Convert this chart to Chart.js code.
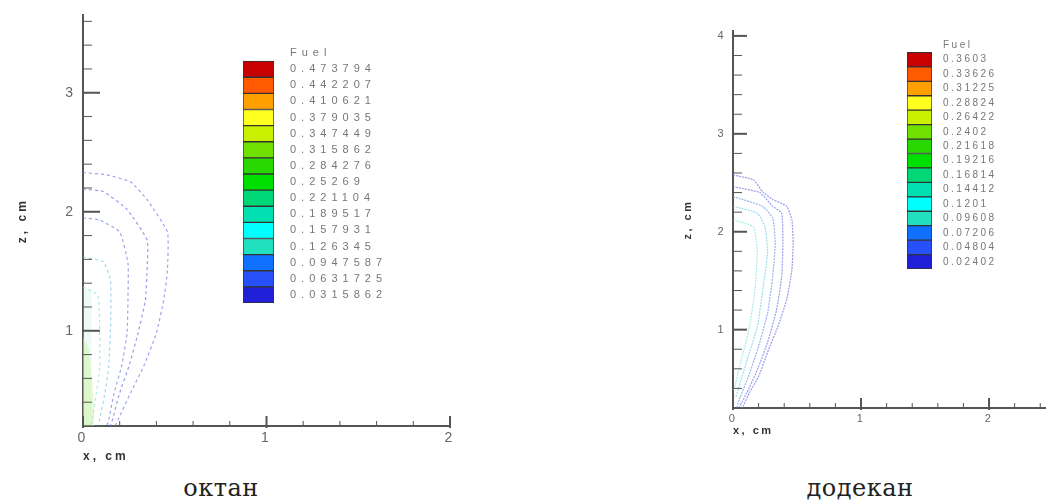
<!DOCTYPE html>
<html>
<head>
<meta charset="utf-8">
<script src="https://cdn.jsdelivr.net/npm/chart.js@4.4.1/dist/chart.umd.min.js"></script>
<style>
    body { margin: 0; background: #fff; width: 1046px; height: 500px; overflow: hidden; position: relative; }
    canvas { position: absolute; }
    .caption { position: absolute; width: 200px; text-align: center; font-family: 'DejaVu Serif', serif; font-size: 24px; line-height: 24px; color: #222; letter-spacing: 0.5px; }
</style>
</head>
<body>
<canvas id="octaneChart" width="470" height="470" style="left:0;top:0"></canvas>
<canvas id="octaneLegend" width="150" height="308" style="left:243px;top:20px"></canvas>
<canvas id="dodecaneChart" width="376" height="440" style="left:670px;top:0"></canvas>
<canvas id="dodecaneLegend" width="139" height="271" style="left:907px;top:18px"></canvas>
<div class="caption" style="left:121px;top:476px">октан</div>
<div class="caption" style="left:760px;top:476px">додекан</div>
<script>
// fuel levels shown in the two colour bars
let octaneLevels = ['0.473794', '0.442207', '0.410621', '0.379035', '0.347449', '0.315862', '0.284276', '0.25269',
    '0.221104', '0.189517', '0.157931', '0.126345', '0.0947587', '0.0631725', '0.0315862'];
let dodecaneLevels = ['0.3603', '0.33626', '0.31225', '0.28824', '0.26422', '0.2402', '0.21618', '0.19216',
    '0.16814', '0.14412', '0.1201', '0.09608', '0.07206', '0.04804', '0.02402'];
let fuelColors = ['#c80000', '#ff5a00', '#ffa000', '#ffff20', '#c8f000', '#70e000', '#28d800', '#00e000',
    '#00d878', '#00e0b0', '#00ffff', '#20e0c0', '#1070ff', '#2850f8', '#2020d8'];

// tick values
let octaneXTicks = [0, 0.2, 0.4, 0.6, 0.8, 1, 1.2, 1.4, 1.6, 1.8, 2];
let octaneYTicks = [0.2, 0.4, 0.6, 0.8, 1, 1.2, 1.4, 1.6, 1.8, 2, 2.2, 2.4, 2.6, 2.8, 3, 3.2, 3.4, 3.6];
let dodecaneXTicks = [0, 0.2, 0.4, 0.6, 0.8, 1, 1.2, 1.4, 1.6, 1.8, 2, 2.2, 2.4];
let dodecaneYTicks = [0.2, 0.4, 0.6, 0.8, 1, 1.2, 1.4, 1.6, 1.8, 2, 2.2, 2.4, 2.6, 2.8, 3, 3.2, 3.4, 3.6, 3.8, 4];

// contour lines, [x cm, z cm], outermost first
let octaneC1 = [[0, 2.33], [0.13, 2.31], [0.26, 2.25], [0.35, 2.10], [0.46, 1.83], [0.46, 1.51], [0.44, 1.26],
    [0.40, 0.98], [0.33, 0.70], [0.26, 0.48], [0.19, 0.25], [0.175, 0.2]];
let octaneC2 = [[0, 2.19], [0.11, 2.17], [0.24, 2.02], [0.35, 1.76], [0.35, 1.54], [0.34, 1.26], [0.30, 0.98],
    [0.25, 0.70], [0.20, 0.48], [0.16, 0.25], [0.15, 0.2]];
let octaneC3 = [[0, 1.95], [0.09, 1.93], [0.20, 1.83], [0.245, 1.57], [0.245, 1.26], [0.24, 0.98], [0.21, 0.70],
    [0.17, 0.48], [0.14, 0.25], [0.13, 0.2]];
let octaneC4 = [[0, 1.62], [0.11, 1.58], [0.15, 1.43], [0.15, 1.03], [0.14, 0.70], [0.12, 0.48], [0.09, 0.25], [0.085, 0.2]];
let octaneC5 = [[0, 1.37], [0.08, 1.30], [0.09, 1.09], [0.09, 0.67], [0.05, 0.25], [0.045, 0.2]];
let octaneCore = [[0, 0.95], [0.03, 0.85], [0.05, 0.6], [0.06, 0.35], [0.06, 0.2]];

let dodecaneC1 = [[0, 2.58], [0.16, 2.53], [0.23, 2.41], [0.31, 2.33], [0.42, 2.26], [0.46, 2.12], [0.47, 1.89],
    [0.46, 1.61], [0.42, 1.31], [0.35, 1.03], [0.27, 0.77], [0.20, 0.52], [0.13, 0.36], [0.08, 0.22], [0.07, 0.2]];
let dodecaneC2 = [[0, 2.46], [0.21, 2.40], [0.31, 2.26], [0.38, 2.19], [0.39, 1.89], [0.38, 1.54], [0.34, 1.20],
    [0.27, 0.87], [0.19, 0.59], [0.11, 0.36], [0.05, 0.21], [0.045, 0.2]];
let dodecaneC3 = [[0, 2.36], [0.23, 2.26], [0.31, 2.14], [0.33, 1.89], [0.31, 1.54], [0.27, 1.17], [0.20, 0.83],
    [0.12, 0.52], [0.05, 0.29], [0.03, 0.2]];
let dodecaneC4 = [[0, 2.26], [0.19, 2.19], [0.25, 2.05], [0.27, 1.79], [0.23, 1.38], [0.19, 1.03], [0.11, 0.69],
    [0.04, 0.39], [0.02, 0.3]];
let dodecaneC5 = [[0, 2.12], [0.16, 2.05], [0.19, 1.79], [0.17, 1.38], [0.12, 0.97], [0.05, 0.62], [0.015, 0.42], [0, 0.38]];

Chart.defaults.font.family = "'Liberation Sans', Arial, sans-serif";

// ticks are drawn inward from the axes, like in Tecplot
let innerTicks = {
    id: 'innerTicks',
    afterDraw(chart, args, opts) {
        let ctx = chart.ctx;
        let area = chart.chartArea;
        ctx.save();
        ctx.strokeStyle = '#555';
        for (let v of chart.scales.x.ticks.map(t => t.value)) {
            let px = chart.scales.x.getPixelForValue(v);
            let major = Number.isInteger(v);
            ctx.lineWidth = major ? 2 : 1;
            ctx.beginPath();
            ctx.moveTo(px, area.bottom + (major ? 2 : 0));
            ctx.lineTo(px, area.bottom - (major ? opts.xMajor : opts.xMinor));
            ctx.stroke();
        }
        for (let v of chart.scales.y.ticks.map(t => t.value)) {
            let py = chart.scales.y.getPixelForValue(v);
            let major = Number.isInteger(v);
            ctx.lineWidth = major ? 2 : 1;
            ctx.beginPath();
            ctx.moveTo(area.left, py);
            ctx.lineTo(area.left + (major ? opts.yMajor : opts.yMinor), py);
            ctx.stroke();
        }
        ctx.restore();
    }
};

// the source picture is stretched sideways, so its text is widely spaced
let letterSpacing = {
    id: 'letterSpacing',
    beforeDraw(chart, args, opts) {
        chart.ctx.letterSpacing = (opts.px || 0) + 'px';
    }
};

function contourDataset(points, color, dash, fillColor) {
    return {
        data: points.map(p => ({ x: p[0], y: p[1] })),
        showLine: true,
        borderColor: color,
        borderWidth: 1.2,
        borderDash: dash,
        pointRadius: 0,
        tension: 0.15,
        fill: fillColor ? 'start' : false,
        backgroundColor: fillColor || 'transparent'
    };
}

function renderContourChart(canvasId, datasets, g) {
    return new Chart(document.getElementById(canvasId), {
        type: 'scatter',
        data: { datasets: datasets },
        plugins: [innerTicks, letterSpacing],
        options: {
            responsive: false,
            animation: false,
            events: [],
            layout: { autoPadding: false, padding: { top: g.top, right: g.right, left: 0, bottom: 0 } },
            plugins: {
                legend: { display: false },
                tooltip: { enabled: false },
                innerTicks: { xMajor: 10, xMinor: 5, yMajor: g.yMajor, yMinor: 9 },
                letterSpacing: { px: g.spacing }
            },
            scales: {
                x: {
                    type: 'linear',
                    min: 0,
                    max: g.xMax,
                    afterBuildTicks: s => { s.ticks = g.xTicks.map(v => ({ value: v })); },
                    afterFit: s => { s.height = g.xAxisHeight; },
                    grid: { display: false, drawTicks: false },
                    border: { display: true, color: '#555', width: 2 },
                    ticks: {
                        autoSkip: false, maxRotation: 0, padding: g.xTickPad, color: '#666',
                        font: { size: g.tickSize },
                        callback: v => Number.isInteger(v) ? v : ''
                    },
                    title: {
                        display: true, text: 'x, cm', align: 'start', color: '#333',
                        font: { size: g.titleSize, weight: 'bold' }, padding: { top: 0, bottom: g.xTitlePad }
                    }
                },
                y: {
                    type: 'linear',
                    min: 0.2,
                    max: g.yMax,
                    afterBuildTicks: s => { s.ticks = g.yTicks.map(v => ({ value: v })); },
                    afterFit: s => { s.width = g.yAxisWidth; },
                    grid: { display: false, drawTicks: false },
                    border: { display: true, color: '#555', width: 2 },
                    ticks: {
                        autoSkip: false, padding: 7, color: '#666',
                        font: { size: g.tickSize },
                        callback: v => Number.isInteger(v) ? v : ''
                    },
                    title: {
                        display: true, text: 'z, cm', color: '#333',
                        font: { size: g.titleSize, weight: 'bold' }, padding: { top: g.yTitlePad, bottom: 0 }
                    }
                }
            }
        }
    });
}

function renderFuelLegend(canvasId, levels, g) {
    return new Chart(document.getElementById(canvasId), {
        type: 'bar',
        data: {
            labels: ['Fuel'].concat(levels),
            datasets: [{
                data: [null].concat(levels.map(() => 1)),
                backgroundColor: ['transparent'].concat(fuelColors),
                borderColor: '#333',
                borderWidth: 1,
                borderSkipped: false,
                barPercentage: 1,
                categoryPercentage: 1
            }]
        },
        plugins: [letterSpacing],
        options: {
            indexAxis: 'y',
            responsive: false,
            animation: false,
            events: [],
            layout: { autoPadding: false, padding: { top: g.margin, bottom: g.margin, left: 0, right: 0 } },
            plugins: {
                legend: { display: false },
                tooltip: { enabled: false },
                letterSpacing: { px: g.spacing }
            },
            scales: {
                x: { display: false, min: 0, max: 1 },
                y: {
                    position: 'right',
                    afterFit: s => { s.width = g.axisWidth; },
                    grid: { display: false, drawTicks: false },
                    border: { display: false },
                    ticks: { autoSkip: false, padding: g.pad, color: '#777', font: { size: g.fontSize } }
                }
            }
        }
    });
}

document.addEventListener('DOMContentLoaded', function() {
    renderContourChart('octaneChart', [
        contourDataset(octaneCore, 'transparent', [], 'rgba(205,240,150,0.45)'),
        contourDataset(octaneC5, 'rgba(120,225,200,0.6)', [3, 3], 'rgba(180,240,225,0.25)'),
        contourDataset(octaneC4, 'rgba(110,195,225,0.65)', [3, 3]),
        contourDataset(octaneC3, 'rgba(110,130,225,0.7)', [3, 3]),
        contourDataset(octaneC2, 'rgba(120,120,230,0.75)', [3, 3]),
        contourDataset(octaneC1, 'rgba(130,130,235,0.75)', [3, 3])
    ], {
        top: 15, right: 20, xMax: 2, yMax: 3.65, xTicks: octaneXTicks, yTicks: octaneYTicks,
        xAxisHeight: 44, yAxisWidth: 83, xTickPad: 4, tickSize: 14, titleSize: 12,
        xTitlePad: 6, yTitlePad: 15, yMajor: 17, spacing: 3
    });
    renderContourChart('dodecaneChart', [
        contourDataset(dodecaneC5, 'rgba(110,225,215,0.6)', [2, 1], 'rgba(165,245,240,0.3)'),
        contourDataset(dodecaneC4, 'rgba(100,200,230,0.65)', [2, 1]),
        contourDataset(dodecaneC3, 'rgba(110,150,230,0.7)', [2, 1]),
        contourDataset(dodecaneC2, 'rgba(120,125,230,0.75)', [2, 1]),
        contourDataset(dodecaneC1, 'rgba(130,130,235,0.8)', [2, 1])
    ], {
        top: 31, right: 0, xMax: 2.445, yMax: 4.05, xTicks: dodecaneXTicks, yTicks: dodecaneYTicks,
        xAxisHeight: 32, yAxisWidth: 63, xTickPad: 4, tickSize: 11, titleSize: 11,
        xTitlePad: 2, yTitlePad: 11, yMajor: 14, spacing: 2.5
    });
    renderFuelLegend('octaneLegend', octaneLevels, { margin: 25, axisWidth: 119, pad: 16, fontSize: 11, spacing: 5 });
    renderFuelLegend('dodecaneLegend', dodecaneLevels, { margin: 20, axisWidth: 114, pad: 11, fontSize: 10, spacing: 2.5 });
});
</script>
</body>
</html>
